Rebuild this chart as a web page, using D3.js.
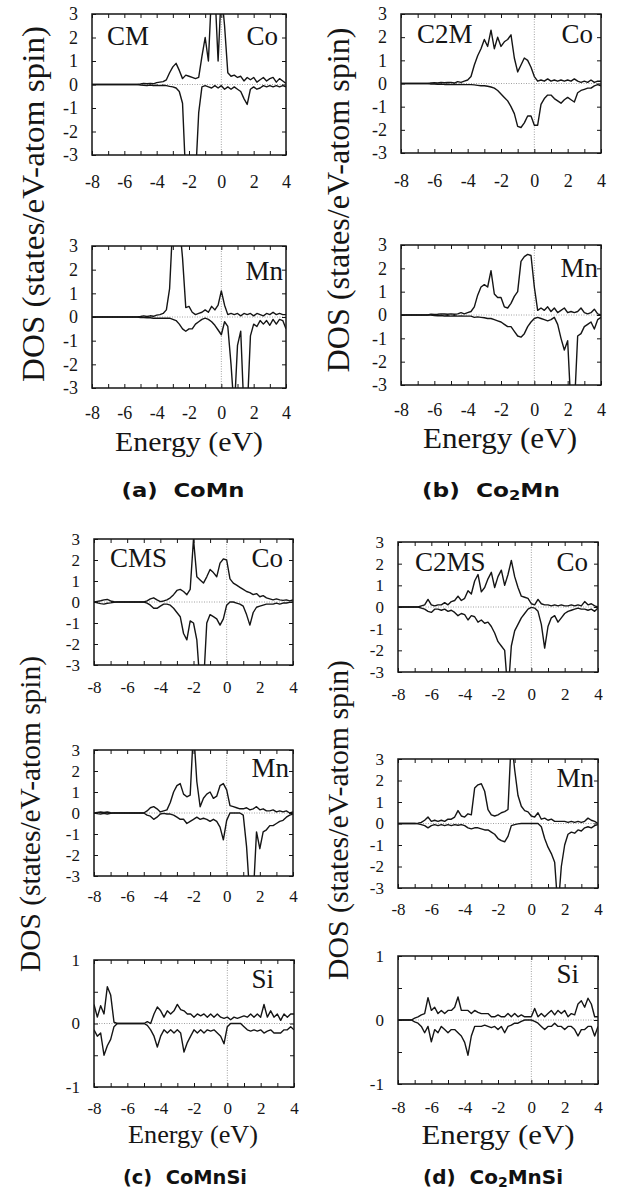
<!DOCTYPE html>
<html><head><meta charset="utf-8">
<script src="https://cdn.jsdelivr.net/npm/d3@7"></script>
<style>
html,body{margin:0;padding:0;background:#fff;}
svg{display:block;}
</style></head>
<body>
<svg id="chart" width="618" height="1189"></svg>
<script>
// ---------------- DATA ----------------
const energy = [-8.0,-7.8,-7.6,-7.4,-7.2,-7.0,-6.8,-6.6,-6.4,-6.2,
  -6.0,-5.8,-5.6,-5.4,-5.2,-5.0,-4.8,-4.6,-4.4,-4.2,
  -4.0,-3.8,-3.6,-3.4,-3.2,-3.0,-2.8,-2.6,-2.4,-2.2,
  -2.0,-1.8,-1.6,-1.4,-1.2,-1.0,-0.8,-0.6,-0.4,-0.2,
  0.0,0.2,0.4,0.6,0.8,1.0,1.2,1.4,1.6,1.8,
  2.0,2.2,2.4,2.6,2.8,3.0,3.2,3.4,3.6,3.8,4.0];

const xTicks = [-8,-7,-6,-5,-4,-3,-2,-1,0,1,2,3,4];
const dosTicks = [-3,-2,-1,0,1,2,3];
const siTicks = [-1,-0.5,0,0.5,1];
const siTickLabels = [-1,0,1];

// (a) CoMn
const cmCoUp = [0,0,0,0,0,0,0,0,0,0,
  0,0,0,0,0,0.02,0.05,0.03,0.05,0.03,
  0.08,0.1,0.12,0.2,0.5,0.75,0.9,0.6,0.25,0.4,
  0.35,0.3,0.25,0.3,1.2,2.0,1.0,4,4,1.0,
  4,2.5,0.5,0.35,0.4,0.3,0.35,0.15,0.3,0.2,
  0.3,0.1,0.2,0.3,0.15,0.25,0.3,0.1,0.25,0.15,0.05];
const cmCoDn = [0,0,0,0,0,0,0,0,0,0,
  0,0,0,0,0,-0.02,-0.03,-0.05,-0.02,-0.05,
  -0.03,-0.05,-0.03,-0.05,-0.08,-0.1,-0.15,-0.3,-0.8,-4,
  -4,-4,-4,-1.2,-0.1,-0.05,-0.1,-0.15,-0.05,-0.15,
  -0.05,-0.2,-0.1,-0.2,-0.1,-0.2,-0.3,-0.6,-0.85,-0.2,
  -0.1,-0.2,-0.15,-0.05,-0.1,-0.05,-0.1,-0.05,-0.1,-0.05,-0.1];
const cmMnUp = [0,0,0,0,0,0,0,0,0,0,
  0,0,0,0,0,0.02,0.05,0.02,0.05,0.03,
  0.08,0.1,0.15,0.3,1.2,4,4,4,2.5,0.4,
  0.45,0.2,0.1,0.15,0.2,0.3,0.2,0.45,0.3,0.5,
  1.1,0.5,0.1,0.15,0.1,0.15,0.05,0.15,0.1,0.15,
  0.05,0.15,0.1,0.05,0.15,0.1,0.2,0.1,0.15,0.1,0.1];
const cmMnDn = [0,0,0,0,0,0,0,0,0,0,
  0,0,0,0,0,-0.02,-0.02,-0.03,-0.03,-0.05,
  -0.05,-0.05,-0.05,-0.05,-0.05,-0.1,-0.15,-0.3,-0.5,-0.6,
  -0.5,-0.5,-0.3,-0.2,-0.1,-0.05,-0.1,-0.2,-0.35,-0.55,
  -0.75,-0.2,-0.4,-2.0,-4,-1.2,-0.6,-4,-4,-0.8,
  -0.3,-0.4,-0.15,-0.3,-0.15,-0.35,-0.1,-0.3,-0.1,-0.15,-0.5];

// (b) Co2Mn
const c2mCoUp = [0,0,0,0,0,0,0,0,0,0.02,
  0.03,0.02,0.05,0.03,0.04,0.05,0.02,0.08,0.05,0.1,
  0.15,0.3,0.8,1.2,1.5,1.9,1.6,2.3,1.5,2.0,
  1.6,1.8,1.9,2.1,1.1,0.5,0.8,1.1,1.0,0.7,
  0.3,0.1,0.15,0.1,0.2,0.1,0.15,0.1,0.15,0.1,
  0.15,0.1,0.2,0.1,0.05,0.1,0.05,0.15,0.05,0.1,0.1];
const c2mCoDn = [0,0,0,0,0,0,0,0,0,-0.02,
  -0.02,-0.03,-0.02,-0.04,-0.03,-0.05,-0.03,-0.05,-0.04,-0.05,
  -0.05,-0.05,-0.06,-0.08,-0.1,-0.1,-0.12,-0.15,-0.2,-0.3,
  -0.45,-0.6,-0.75,-1.0,-1.3,-1.85,-1.9,-1.7,-1.4,-1.4,
  -1.8,-1.8,-0.9,-0.65,-0.5,-0.5,-0.65,-0.75,-0.85,-0.7,
  -0.6,-0.7,-0.8,-0.4,-0.3,-0.25,-0.2,-0.2,-0.1,-0.05,-0.1];
const c2mMnUp = [0,0,0,0,0,0,0,0,0,0.03,
  0.02,0.03,0.05,0.04,0.03,0.05,0.03,0.05,0.1,0.05,
  0.1,0.15,0.35,0.85,1.2,1.3,1.2,1.9,0.9,0.75,
  0.75,0.35,0.3,0.5,0.8,1.0,2.3,2.5,2.6,2.55,
  1.2,0.2,0.3,0.2,0.35,0.15,0.3,0.1,0.2,0.3,
  0.1,0.15,0.1,0.15,0.3,0.1,0.05,0.1,0.25,0.05,0.0];
const c2mMnDn = [0,0,0,0,0,0,0,0,0,0,
  -0.02,-0.03,-0.02,-0.04,-0.03,-0.05,-0.03,-0.05,-0.04,-0.05,
  -0.05,-0.05,-0.1,-0.08,-0.1,-0.12,-0.15,-0.15,-0.2,-0.25,
  -0.3,-0.4,-0.5,-0.5,-0.7,-0.9,-0.95,-0.8,-0.5,-0.3,
  -0.15,-0.1,-0.15,-0.2,-0.25,-0.2,-0.1,-0.4,-1.0,-1.5,
  -1.1,-4,-4,-0.9,-0.8,-0.5,-0.4,-0.3,-0.6,-0.2,-0.1];

// (c) CoMnSi
const cmsCoUp = [0,0.03,0.06,0.1,0.12,0.05,0.01,0,0,0,
  0,0,0,0,0,0,0.05,0.15,0.2,0.1,
  0.02,0.05,0.1,0.2,0.35,0.55,0.6,0.5,0.35,0.6,
  3.0,1.2,1.05,0.9,1.2,1.55,1.4,1.2,1.85,2.05,
  2.0,1.1,0.9,0.8,0.7,0.6,0.5,0.45,0.35,0.4,
  0.25,0.3,0.2,0.15,0.1,0.15,0.1,0.08,0.1,0.05,0.1];
const cmsCoDn = [0,-0.04,-0.08,-0.1,-0.06,-0.04,-0.01,0,0,0,
  0,0,0,0,0,0,-0.05,-0.15,-0.3,-0.3,
  -0.2,-0.1,-0.1,-0.15,-0.3,-0.5,-0.7,-1.5,-1.8,-0.9,
  -1.0,-1.8,-4,-4,-1.0,-0.6,-0.7,-0.8,-1.1,-0.8,
  -0.15,0,0,-0.05,-0.1,-0.2,-0.6,-1.1,-0.5,-0.25,
  -0.2,-0.15,-0.1,-0.1,-0.1,-0.05,-0.1,-0.05,-0.05,-0.02,0];
const cmsMnUp = [0,0.03,0.05,0.03,0.05,0.01,0,0,0,0,
  0,0,0,0,0,0,0.1,0.25,0.3,0.2,
  0.05,0.1,0.15,0.5,1.0,1.3,1.4,0.9,0.77,0.85,
  4,1.5,0.3,0.7,0.9,1.0,0.7,0.8,1.3,1.4,
  1.1,0.35,0.3,0.25,0.2,0.2,0.25,0.15,0.2,0.3,
  0.15,0.2,0.1,0.1,0.15,0.05,0.1,0.05,0.1,0.0,0.05];
const cmsMnDn = [0,-0.03,-0.05,-0.02,-0.05,-0.01,0,0,0,0,
  0,0,0,0,0,0,-0.1,-0.15,-0.3,-0.2,
  -0.05,-0.02,-0.05,-0.05,-0.1,-0.2,-0.3,-0.3,-0.5,-0.4,
  -0.3,-0.2,-0.3,-0.25,-0.3,-0.4,-0.3,-0.4,-0.67,-1.28,
  -0.35,0,0,0,0,-0.1,-1.6,-4,-4,-0.9,
  -1.7,-0.9,-0.8,-0.6,-0.6,-0.5,-0.4,-0.35,-0.2,-0.1,-0.05];
const cmsSiUp = [0.3,0.1,0.28,0.15,0.58,0.45,0.02,0,0,0,
  0,0,0,0,0,0,0.03,0.0,0.15,0.26,
  0.2,0.1,0.2,0.15,0.2,0.3,0.22,0.2,0.15,0.15,
  0.1,0.15,0.12,0.15,0.1,0.15,0.1,0.15,0.1,0.08,
  0.1,0.06,0.1,0.08,0.1,0.12,0.1,0.15,0.1,0.15,
  0.1,0.3,0.1,0.2,0.1,0.15,0.05,0.15,0.1,0.15,0.15];
const cmsSiDn = [-0.1,-0.2,-0.15,-0.5,-0.35,-0.25,-0.05,0,0,0,
  0,0,0,0,0,0,-0.03,-0.1,-0.2,-0.37,
  -0.2,-0.1,-0.15,-0.1,-0.15,-0.1,-0.15,-0.45,-0.3,-0.2,
  -0.1,-0.15,-0.1,-0.15,-0.1,-0.12,-0.1,-0.15,-0.2,-0.32,
  -0.05,0,0,0,0,-0.05,-0.1,-0.12,-0.1,-0.12,
  -0.1,-0.15,-0.12,-0.1,-0.15,-0.15,-0.15,-0.1,-0.1,-0.05,-0.1];

// (d) Co2MnSi
const c2msCoUp = [0,0,0,0,0,0,0,0.05,0.1,0.35,
  0.1,0.05,0.1,0.1,0.2,0.1,0.25,0.3,0.5,0.3,
  0.4,0.75,0.6,1.2,1.5,0.7,0.9,1.3,1.6,0.9,
  1.4,1.7,1.0,1.5,2.15,1.4,0.9,0.5,0.45,0.4,
  0.15,0.1,0.35,0.15,0.1,0.1,0.05,0.1,0.05,0.1,
  0.05,0.05,0.1,0.05,0.1,0.05,0.25,0.1,0.15,0.05,0.0];
const c2msCoDn = [0,0,0,0,0,0,0,-0.05,-0.1,-0.2,
  -0.25,-0.1,-0.1,-0.15,-0.1,-0.2,-0.15,-0.25,-0.4,-0.3,
  -0.35,-0.6,-0.4,-0.45,-0.7,-0.6,-0.75,-0.7,-0.9,-1.2,
  -1.6,-1.8,-2.0,-4,-1.8,-1.1,-0.8,-0.5,-0.3,-0.1,
  -0.02,-0.05,-0.2,-0.8,-1.9,-0.9,-0.5,-0.4,-0.7,-0.5,
  -0.3,-0.2,-0.15,-0.1,-0.05,-0.1,-0.1,-0.15,-0.1,-0.2,-0.05];
const c2msMnUp = [0,0,0,0,0,0,0.02,0.05,0.15,0.3,
  0.1,0.15,0.1,0.15,0.1,0.2,0.2,0.3,0.6,0.35,
  0.3,0.45,0.4,1.65,1.8,1.85,1.5,0.65,0.4,0.35,
  0.4,0.5,0.55,0.65,4,2.5,1.3,0.8,0.6,0.54,
  0.35,0.3,0.5,0.2,0.25,0.15,0.2,0.1,0.1,0.1,
  0.1,0.05,0.1,0.05,0.1,0.05,0.1,0.25,0.15,0.1,0.0];
const c2msMnDn = [0,0,0,0,0,0,-0.02,-0.05,-0.1,-0.2,
  -0.1,-0.05,-0.1,-0.05,-0.1,-0.05,-0.1,-0.05,-0.08,-0.05,
  -0.1,-0.2,-0.25,-0.2,-0.2,-0.25,-0.3,-0.3,-0.4,-0.5,
  -0.7,-0.8,-0.85,-0.6,-0.1,-0.05,-0.02,0,0,0,
  0,0,0,-0.15,-0.7,-1.1,-1.4,-1.8,-4,-2.0,
  -1.0,-0.5,-0.4,-0.45,-0.3,-0.35,-0.2,-0.15,-0.2,-0.1,-0.05];
const c2msSiUp = [0,0,0,0,0,0.03,0.05,0.08,0.1,0.35,
  0.15,0.2,0.1,0.15,0.1,0.15,0.15,0.2,0.36,0.15,
  0.15,0.15,0.1,0.15,0.12,0.1,0.1,0.1,0.05,0.05,
  0.08,0.05,0.05,0.1,0.05,0.1,0.05,0.08,0.05,0.05,
  0.05,0.18,0.05,0.1,0.05,0.1,0.15,0.08,0.15,0.1,
  0.15,0.05,0.1,0.08,0.25,0.3,0.2,0.34,0.25,0.05,0.05];
const c2msSiDn = [0,0,0,0,0,-0.03,-0.05,-0.1,-0.2,-0.1,
  -0.34,-0.15,-0.2,-0.1,-0.15,-0.2,-0.15,-0.15,-0.2,-0.25,
  -0.35,-0.55,-0.25,-0.1,-0.1,-0.1,-0.08,-0.1,-0.12,-0.1,
  -0.15,-0.1,-0.2,-0.1,-0.08,-0.05,-0.05,-0.02,0,0,
  0,-0.02,-0.05,-0.1,-0.15,-0.1,-0.1,-0.05,-0.1,-0.1,
  -0.15,-0.1,-0.1,-0.15,-0.25,-0.15,-0.15,-0.1,-0.1,-0.25,-0.1];

// ---------------- LAYOUT ----------------
const panels = [
  {x0:92, x1:286, y0:14, y1:155, up:cmCoUp, dn:cmCoDn, fs:18, lb:33,
   labels:[{t:"CM", x:107, y:45, a:"start"},{t:"Co", x:278, y:45, a:"end"}]},
  {x0:401, x1:601, y0:14, y1:153, up:c2mCoUp, dn:c2mCoDn, fs:18, lb:34,
   labels:[{t:"C2M", x:417, y:43, a:"start"},{t:"Co", x:593, y:43, a:"end"}]},
  {x0:92, x1:286, y0:246, y1:388, up:cmMnUp, dn:cmMnDn, fs:18, lb:31,
   labels:[{t:"Mn", x:283, y:280, a:"end"}]},
  {x0:401, x1:601, y0:245, y1:385, up:c2mMnUp, dn:c2mMnDn, fs:18, lb:31,
   labels:[{t:"Mn", x:598, y:277, a:"end"}]},
  {x0:94, x1:293, y0:539, y1:665, up:cmsCoUp, dn:cmsCoDn, fs:17, lb:28,
   labels:[{t:"CMS", x:110, y:567, a:"start"},{t:"Co", x:283, y:567, a:"end"}]},
  {x0:398, x1:598, y0:542, y1:672, up:c2msCoUp, dn:c2msCoDn, fs:17, lb:28,
   labels:[{t:"C2MS", x:415, y:571, a:"start"},{t:"Co", x:588, y:571, a:"end"}]},
  {x0:94, x1:293, y0:750, y1:876, up:cmsMnUp, dn:cmsMnDn, fs:17, lb:26,
   labels:[{t:"Mn", x:289, y:777, a:"end"}]},
  {x0:398, x1:598, y0:759, y1:888, up:c2msMnUp, dn:c2msMnDn, fs:17, lb:27,
   labels:[{t:"Mn", x:594, y:787, a:"end"}]},
  {x0:94, x1:294, y0:960, y1:1087, up:cmsSiUp, dn:cmsSiDn, fs:17, lb:27, si:true,
   labels:[{t:"Si", x:274, y:988, a:"end"}]},
  {x0:398, x1:598, y0:956, y1:1084, up:c2msSiUp, dn:c2msSiDn, fs:17, lb:29, si:true,
   labels:[{t:"Si", x:579, y:983, a:"end"}]}
];

const svg = d3.select("#chart");
const serif = "'Liberation Serif','DejaVu Serif',serif";
const ink = "#151515";

panels.forEach((p, i) => {
  const x = d3.scaleLinear().domain([-8, 4]).range([p.x0, p.x1]);
  const y = d3.scaleLinear().domain(p.si ? [-1, 1] : [-3, 3]).range([p.y1, p.y0]);
  const g = svg.append("g");
  const clipId = "clip" + i;
  svg.append("clipPath").attr("id", clipId)
    .append("rect").attr("x", p.x0).attr("y", p.y0)
    .attr("width", p.x1 - p.x0).attr("height", p.y1 - p.y0);

  // dotted reference lines
  g.append("line").attr("x1", x(0)).attr("x2", x(0)).attr("y1", p.y0).attr("y2", p.y1)
    .attr("stroke", "#8a8a8a").attr("stroke-width", 0.8).attr("stroke-dasharray", "1,1.5");
  g.append("line").attr("x1", p.x0).attr("x2", p.x1).attr("y1", y(0)).attr("y2", y(0))
    .attr("stroke", "#8a8a8a").attr("stroke-width", 0.8).attr("stroke-dasharray", "1,1.5");

  const line = d3.line().x((d, k) => x(energy[k])).y(d => y(d)).curve(d3.curveLinear);
  const cg = g.append("g").attr("clip-path", `url(#${clipId})`);
  [p.up, p.dn].forEach(s => {
    cg.append("path").datum(s).attr("d", line)
      .attr("fill", "none").attr("stroke", ink).attr("stroke-width", 1.4)
      .attr("stroke-linejoin", "round");
  });

  const yt = p.si ? siTicks : dosTicks;
  const ylab = p.si ? siTickLabels : dosTicks;

  // axes (ticks inside)
  const bottom = g.append("g").attr("transform", `translate(0,${p.y1})`)
    .call(d3.axisBottom(x).tickValues(xTicks).tickSize(-4).tickPadding(p.lb - 0.71 * p.fs)
      .tickFormat(d => (d % 2 === 0 ? String(d) : "")));
  const top = g.append("g").attr("transform", `translate(0,${p.y0})`)
    .call(d3.axisTop(x).tickValues(xTicks).tickSize(-4).tickFormat(() => ""));
  const left = g.append("g").attr("transform", `translate(${p.x0},0)`)
    .call(d3.axisLeft(y).tickValues(yt).tickSize(-4).tickPadding(14)
      .tickFormat(d => (ylab.includes(d) ? String(d) : "")));
  const right = g.append("g").attr("transform", `translate(${p.x1},0)`)
    .call(d3.axisRight(y).tickValues(yt).tickSize(-4).tickFormat(() => ""));
  [bottom, top, left, right].forEach(a => {
    a.attr("font-family", serif).attr("font-size", p.fs);
    a.select(".domain").remove();
    a.selectAll(".tick line").attr("stroke", ink).attr("stroke-width", 1);
    a.selectAll("text").attr("font-family", serif).attr("font-size", p.fs).attr("fill", ink);
  });

  // frame
  g.append("rect").attr("x", p.x0).attr("y", p.y0)
    .attr("width", p.x1 - p.x0).attr("height", p.y1 - p.y0)
    .attr("fill", "none").attr("stroke", ink).attr("stroke-width", 1.5);

  // panel labels
  p.labels.forEach(l => {
    g.append("text").attr("x", l.x).attr("y", l.y).attr("text-anchor", l.a)
      .attr("font-family", serif).attr("font-size", 27).attr("fill", ink).text(l.t);
  });
});

// Y axis titles
const yTitles = [
  {x:33, y:204, len:356, fs:31},
  {x:338, y:200, len:345, fs:31},
  {x:30, y:814, len:316, fs:29},
  {x:338, y:820, len:320, fs:29}
];
yTitles.forEach(t => {
  svg.append("text").attr("transform", `translate(${t.x},${t.y}) rotate(-90)`)
    .attr("text-anchor", "middle").attr("dy", "0.35em")
    .attr("font-family", serif).attr("font-size", t.fs).attr("fill", ink)
    .attr("textLength", t.len).attr("lengthAdjust", "spacingAndGlyphs")
    .text("DOS (states/eV-atom spin)");
});

// Energy titles
const eTitles = [
  {x:189, y:451, fs:28, len:148},
  {x:500, y:448, fs:29, len:154},
  {x:193, y:1143, fs:25, len:130},
  {x:498, y:1144, fs:28, len:153}
];
eTitles.forEach(t => {
  svg.append("text").attr("x", t.x).attr("y", t.y).attr("text-anchor", "middle")
    .attr("font-family", serif).attr("font-size", t.fs).attr("fill", ink)
    .attr("textLength", t.len).attr("lengthAdjust", "spacingAndGlyphs")
    .text("Energy (eV)");
});

// Captions
const captions = [
  {x:183, y:497, parts:["(a)  CoMn"], len:123},
  {x:491, y:497, parts:["(b)  Co", "2", "Mn"], len:138},
  {x:185, y:1184, parts:["(c)  CoMnSi"], len:124},
  {x:493, y:1184, parts:["(d)  Co", "2", "MnSi"], len:140}
];
captions.forEach(c => {
  const t = svg.append("text").attr("x", c.x).attr("y", c.y).attr("text-anchor", "middle")
    .attr("font-family", "'DejaVu Sans',sans-serif").attr("font-weight", "bold")
    .attr("font-size", 20).attr("fill", "#111")
    .attr("textLength", c.len).attr("lengthAdjust", "spacingAndGlyphs")
    .style("white-space", "pre");
  c.parts.forEach((s, k) => {
    const ts = t.append("tspan").text(s);
    if (k === 1) ts.attr("font-size", 14).attr("dy", 3);
    if (k === 2) ts.attr("dy", -3);
  });
});
</script>
</body></html>
